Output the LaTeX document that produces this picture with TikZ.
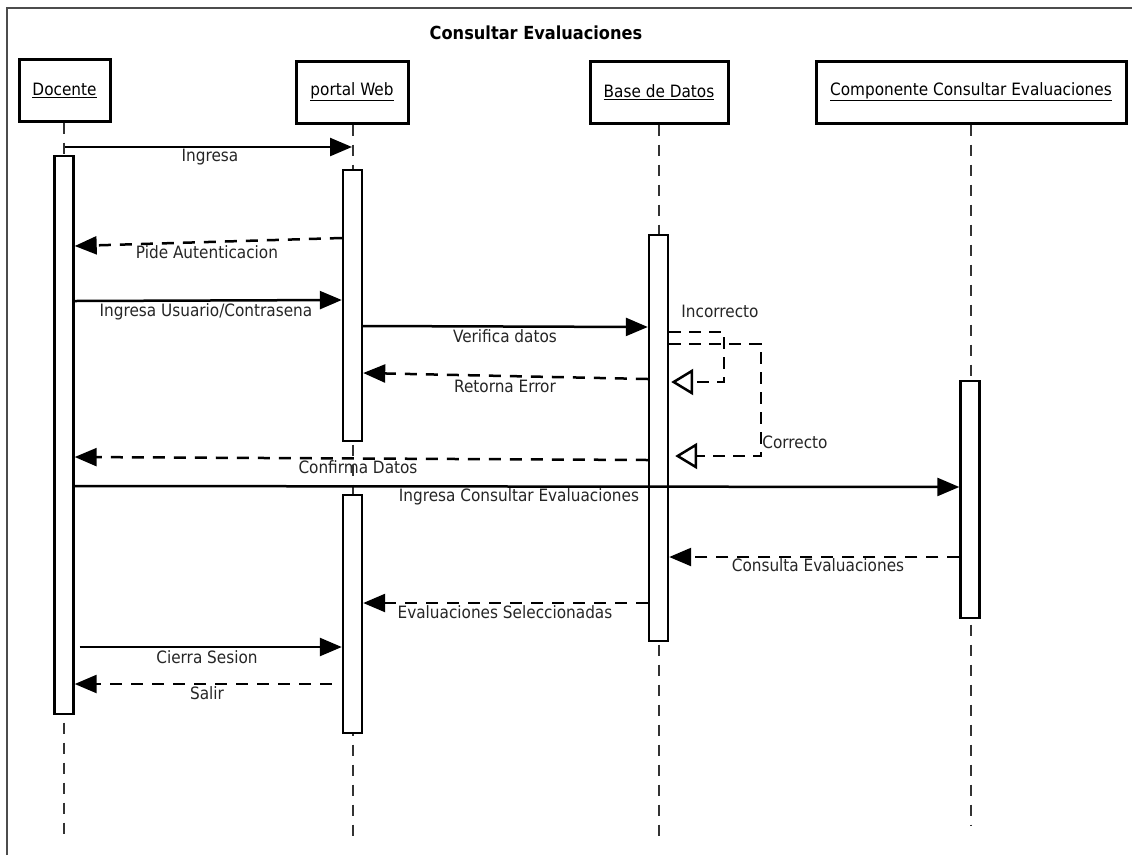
\documentclass[tikz,border=0pt]{standalone}
\usepackage{fontspec}
\setmainfont{DejaVu Sans Condensed}
\usetikzlibrary{arrows.meta}

\tikzset{
  x=1pt, y=-1pt,
  head/.style={draw, line width=3pt, minimum height=62pt, inner sep=0pt, font=\fontsize{17}{20}\selectfont},
  bar/.style={draw, line width=2.4pt, fill=white, minimum width=19pt, inner sep=0pt},
  life/.style={line width=1.1pt, dash pattern=on 11pt off 9pt, black!80},
  call/.style={line width=2.5pt, -{Triangle[length=22pt, width=18pt]}},
  reply/.style={line width=2.5pt, dash pattern=on 12pt off 9pt, -{Triangle[length=22pt, width=18pt]}},
  loop/.style={line width=2.5pt, dash pattern=on 12pt off 8pt, -{Triangle[open, length=22pt, width=26pt, line width=2.5pt]}},
  lbl/.style={font=\fontsize{17}{20}\selectfont, text=black!85, inner sep=0pt},
}

\begin{document}
\begin{tikzpicture}
\useasboundingbox (0,0) rectangle (1132,855);
\fill[white] (0,0) rectangle (1132,855);

% frame
\draw[line width=2pt, black!70] (7,855) -- (7,8) -- (1132,8);

% title
\node[font=\bfseries\fontsize{18}{21}\selectfont] (title) at (536,33) {Consultar Evaluaciones};

% lifeline heads
\node[head, minimum width=91pt]  (doc)  at (64.5,90) {\underline{Docente}};
\node[head, minimum width=112pt] (web)  at (352,92)  {\underline{portal Web}};
\node[head, minimum width=138pt] (bd)   at (659,92)  {\underline{Base de Datos}};
\node[head, minimum width=310pt] (comp) at (971,92)  {\underline{Componente Consultar Evaluaciones}};

% lifelines
\coordinate (docEnd)  at (64,840);
\coordinate (webEnd)  at (353,840);
\coordinate (bdEnd)   at (659,840);
\coordinate (compEnd) at (971,825);
\draw[life] (doc.south -| docEnd) -- (docEnd);
\draw[life] (web.south -| webEnd) -- (webEnd);
\draw[life] (bd.south -| bdEnd) -- (bdEnd);
\draw[life] (comp.south -| compEnd) -- (compEnd);

% activation bars
\node[bar, minimum height=558pt, anchor=north] (aDoc)  at (64,155)   {};
\node[bar, minimum height=271pt, anchor=north] (aWeb1) at (352.5,169) {};
\node[bar, minimum height=238pt, anchor=north] (aWeb2) at (352.5,494) {};
\node[bar, minimum height=406pt, anchor=north] (aBd)   at (658.5,234) {};
\node[bar, minimum height=237pt, anchor=north] (aComp) at (970,380)   {};

% messages
\draw[call]  (doc.south |- 0,147) -- (web.south |- 0,147);
\node[lbl] (l1) at (210,157) {Ingresa};

\draw[reply] (aWeb1.west |- 0,238) -- (aDoc.east |- 0,246);
\node[lbl] (l2) at (207,252) {Pide Autenticacion};

\draw[call]  (aDoc.east |- 0,301) -- (aWeb1.west |- 0,300);
\node[lbl] (l3) at (206,312) {Ingresa Usuario/Contrasena};

\draw[call]  (aWeb1.east |- 0,326) -- (aBd.west |- 0,327);
\node[lbl] (l4) at (505,336) {Verifica datos};

\coordinate (inc) at (724,332);
\draw[loop] (aBd.east |- inc) -- (inc) -- (724,382) -- ([xshift=2pt]aBd.east |- 0,382);
\node[lbl] (l5) at (720,311) {Incorrecto};

\coordinate (cor) at (761,344);
\draw[loop] (aBd.east |- cor) -- (cor) -- (761,456) -- ([xshift=6pt]aBd.east |- 0,456);
\node[lbl] (l6) at (795,442) {Correcto};

\draw[reply] (aBd.west |- 0,379) -- (aWeb1.east |- 0,373);
\node[lbl] (l7) at (505,386) {Retorna Error};

\draw[reply] (aBd.west |- 0,460) -- (aDoc.east |- 0,457);
\node[lbl] (l8) at (358,467) {Confirma Datos};

\draw[call]  (aDoc.east |- 0,486) -- (aComp.west |- 0,487);
\node[lbl] (l9) at (519,497) {Ingresa Consultar Evaluaciones};

\draw[reply] (aComp.west |- 0,557) -- (aBd.east |- 0,557);
\node[lbl] (l10) at (818,565) {Consulta Evaluaciones};

\draw[reply] (aBd.west |- 0,603) -- (aWeb2.east |- 0,603);
\node[lbl] (l11) at (505,612) {Evaluaciones Seleccionadas};

\draw[call]  ([xshift=5pt]aDoc.east |- 0,647) -- (aWeb2.west |- 0,647);
\node[lbl] (l12) at (207,657) {Cierra Sesion};

\draw[reply] ([xshift=-10pt]aWeb2.west |- 0,684) -- (aDoc.east |- 0,684);
\node[lbl] (l13) at (207,693) {Salir};
\end{tikzpicture}
\end{document}
